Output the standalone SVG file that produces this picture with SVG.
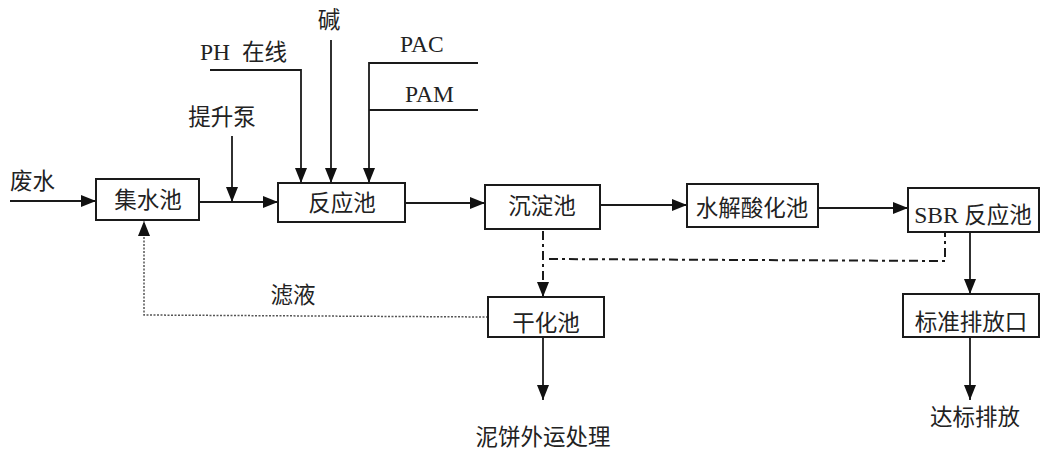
<svg xmlns="http://www.w3.org/2000/svg" width="1041" height="450" viewBox="0 0 1041 450">
<style>
.box{fill:#fff;stroke:#1a1a1a;stroke-width:2}
.t{font-family:"Liberation Serif","Noto Sans CJK SC",serif;font-size:22.5px;fill:#222}
.l{font-size:23.5px}
.c{text-anchor:middle}
.ln{fill:none;stroke:#1a1a1a;stroke-width:1.8}
.dd{fill:none;stroke:#1a1a1a;stroke-width:2;stroke-dasharray:9,4,3,4}
.dot{fill:none;stroke:#555;stroke-width:1.5;stroke-dasharray:2,1.5}
</style>
<defs>
<marker id="ah" markerUnits="userSpaceOnUse" markerWidth="16" markerHeight="12" refX="15" refY="6" orient="auto">
<path d="M0,0 L15,6 L0,12 Z" fill="#111"/>
</marker>
</defs>
<rect width="1041" height="450" fill="#fff"/>
<g id="connectors">
<line class="ln" x1="10" y1="201" x2="96" y2="201" marker-end="url(#ah)"/>
<line class="ln" x1="199" y1="202" x2="278" y2="202" marker-end="url(#ah)"/>
<line class="ln" x1="232" y1="136" x2="232" y2="202" marker-end="url(#ah)"/>
<polyline class="ln" points="210,70 301,70 301,183" marker-end="url(#ah)"/>
<line class="ln" x1="331" y1="40" x2="331" y2="183" marker-end="url(#ah)"/>
<polyline class="ln" points="478,63 369,63 369,183" marker-end="url(#ah)"/>
<line class="ln" x1="369" y1="110" x2="478" y2="110"/>
<line class="ln" x1="405" y1="203" x2="485" y2="203" marker-end="url(#ah)"/>
<line class="ln" x1="600" y1="205" x2="687" y2="205" marker-end="url(#ah)"/>
<line class="ln" x1="818" y1="208" x2="908" y2="208" marker-end="url(#ah)"/>
<line class="dd" x1="543" y1="231" x2="543" y2="297" marker-end="url(#ah)"/>
<polyline class="dd" points="549,259 945,261 945,233"/>
<line class="ln" x1="970" y1="233" x2="970" y2="294" marker-end="url(#ah)"/>
<line class="ln" x1="970" y1="337" x2="970" y2="400" marker-end="url(#ah)"/>
<line class="ln" x1="543" y1="337" x2="543" y2="400" marker-end="url(#ah)"/>
<polyline class="dot" points="488,317 144,315 144,221" marker-end="url(#ah)"/>
</g>
<g id="labels">
<text class="t" x="10" y="189">废水</text>
<text class="t c" x="222" y="125">提升泵</text>
<text class="t" x="200" y="60"><tspan class="l">PH</tspan><tspan dx="12">在线</tspan></text>
<text class="t c" x="329" y="28">碱</text>
<text class="t l" x="400" y="52">PAC</text>
<text class="t l" x="405" y="102">PAM</text>
<text class="t c" x="293" y="303">滤液</text>
<text class="t c" x="543" y="445">泥饼外运处理</text>
<text class="t c" x="975" y="425">达标排放</text>
</g>
<g id="n1"><rect class="box" x="96" y="179" width="103" height="41"/><text class="t c" x="148" y="208">集水池</text></g>
<g id="n2"><rect class="box" x="278" y="183" width="127" height="39"/><text class="t c" x="342" y="211">反应池</text></g>
<g id="n3"><rect class="box" x="485" y="185" width="115" height="44"/><text class="t c" x="542" y="214">沉淀池</text></g>
<g id="n4"><rect class="box" x="687" y="184" width="131" height="43"/><text class="t c" x="752" y="216">水解酸化池</text></g>
<g id="n5"><rect class="box" x="908" y="188" width="131" height="44"/><text class="t c" x="973" y="223"><tspan class="l">SBR</tspan> 反应池</text></g>
<g id="n6"><rect class="box" x="488" y="297" width="116" height="40"/><text class="t c" x="546" y="331">干化池</text></g>
<g id="n7"><rect class="box" x="903" y="294" width="136" height="43"/><text class="t c" x="971" y="330">标准排放口</text></g>
</svg>
